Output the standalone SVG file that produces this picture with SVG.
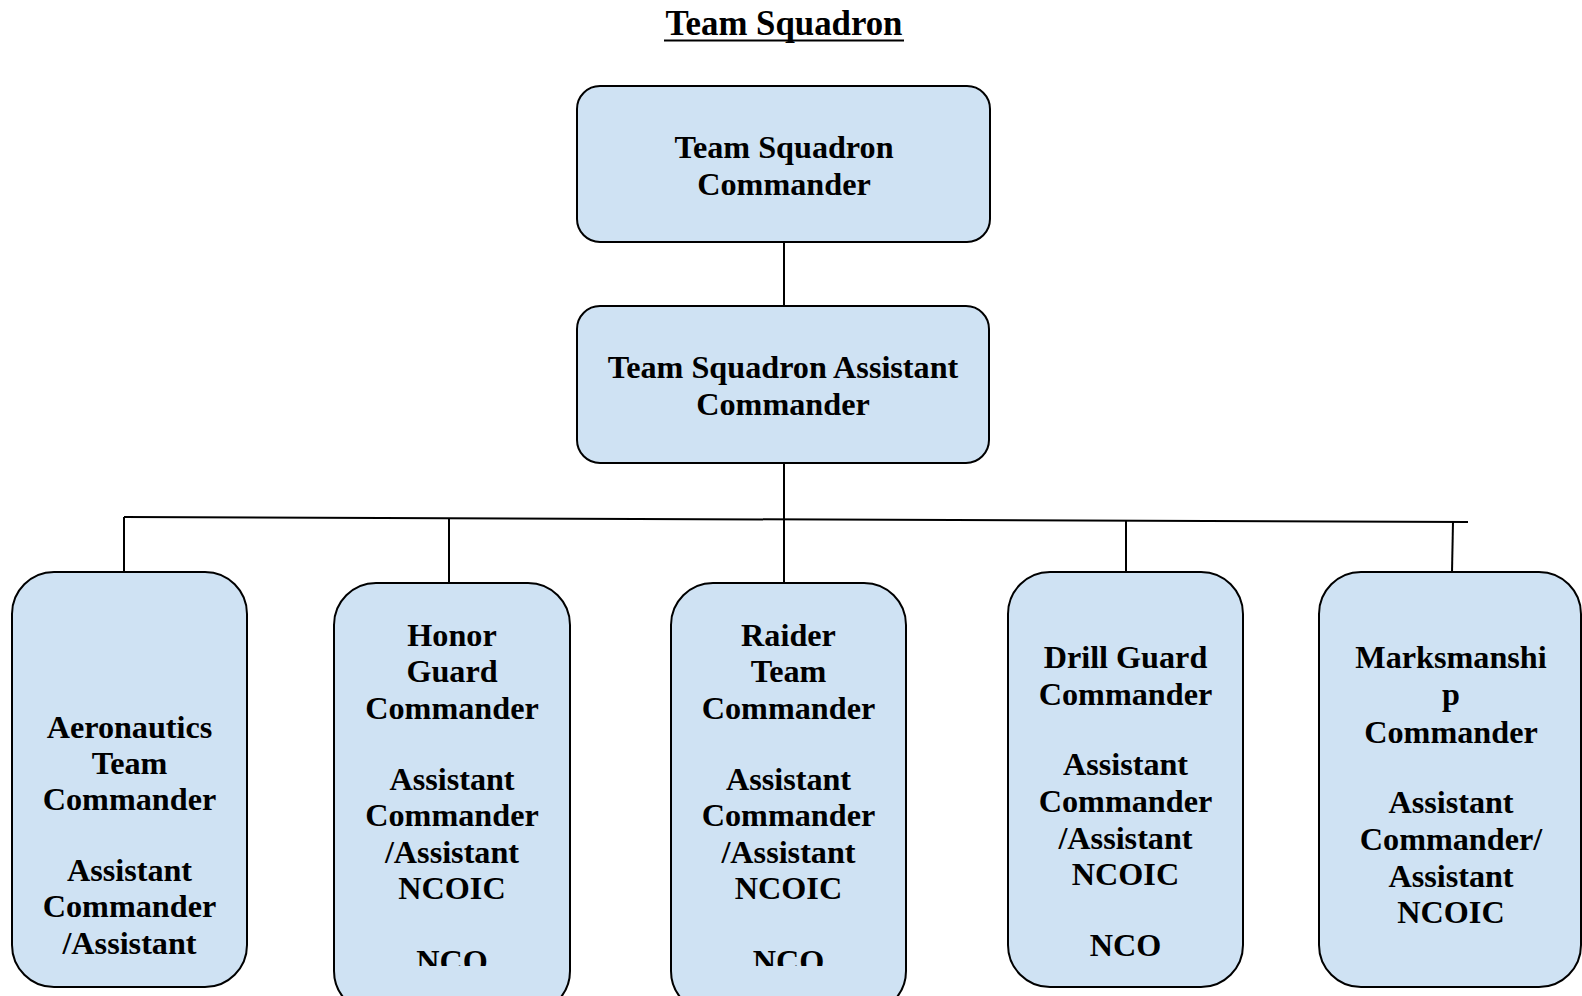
<svg xmlns="http://www.w3.org/2000/svg" width="1582" height="996" viewBox="0 0 1582 996">
<defs>
<style>
.box{fill:#cfe2f3;stroke:#000;stroke-width:2}
.t{font-family:"Liberation Serif","Times New Roman",serif;font-weight:bold;font-size:32.2px;fill:#000;text-anchor:middle}
.title{font-family:"Liberation Serif","Times New Roman",serif;font-weight:bold;font-size:34.8px;fill:#000;text-anchor:middle}
.ln{stroke:#000;stroke-width:2;fill:none}
</style>
<clipPath id="clipH"><rect x="334" y="583" width="236" height="383"/></clipPath>
<clipPath id="clipR"><rect x="671" y="583" width="236" height="383"/></clipPath>
</defs>
<rect width="1582" height="996" fill="#fff"/>
<g id="title">
<text class="title" x="784" y="35">Team Squadron</text>
<line x1="664" y1="40.5" x2="904" y2="40.5" stroke="#000" stroke-width="2"/>
</g>
<g id="connectors">
<line class="ln" x1="784" y1="242" x2="784" y2="306"/>
<line class="ln" x1="784" y1="463" x2="784" y2="583"/>
<line class="ln" x1="124" y1="517" x2="1468" y2="522"/>
<line class="ln" x1="124" y1="517" x2="124" y2="572"/>
<line class="ln" x1="449" y1="518" x2="449" y2="583"/>
<line class="ln" x1="1126" y1="521" x2="1126" y2="572"/>
<line class="ln" x1="1453" y1="522" x2="1452" y2="572"/>
</g>
<g id="n-commander">
<rect class="box" x="577" y="86" width="413" height="156" rx="23"/>
<text class="t" x="784" y="158">Team Squadron</text>
<text class="t" x="784" y="194.5">Commander</text>
</g>
<g id="n-assistant">
<rect class="box" x="577" y="306" width="412" height="157" rx="23"/>
<text class="t" x="783" y="378">Team Squadron Assistant</text>
<text class="t" x="783" y="415">Commander</text>
</g>
<g id="n-aeronautics">
<rect class="box" x="12" y="572" width="235" height="415" rx="42"/>
<text class="t" x="129.5" y="737.5">Aeronautics</text>
<text class="t" x="129.5" y="774">Team</text>
<text class="t" x="129.5" y="810">Commander</text>
<text class="t" x="129.5" y="881">Assistant</text>
<text class="t" x="129.5" y="917">Commander</text>
<text class="t" x="129.5" y="953.5">/Assistant</text>
</g>
<g id="n-honor">
<rect class="box" x="334" y="583" width="236" height="430" rx="42"/>
<text class="t" x="452" y="646">Honor</text>
<text class="t" x="452" y="682">Guard</text>
<text class="t" x="452" y="719">Commander</text>
<text class="t" x="452" y="790">Assistant</text>
<text class="t" x="452" y="826">Commander</text>
<text class="t" x="452" y="863">/Assistant</text>
<text class="t" x="452" y="899">NCOIC</text>
<text class="t" x="452" y="971.5" clip-path="url(#clipH)">NCO</text>
</g>
<g id="n-raider">
<rect class="box" x="671" y="583" width="235" height="430" rx="42"/>
<text class="t" x="788.5" y="646">Raider</text>
<text class="t" x="788.5" y="682">Team</text>
<text class="t" x="788.5" y="719">Commander</text>
<text class="t" x="788.5" y="790">Assistant</text>
<text class="t" x="788.5" y="826">Commander</text>
<text class="t" x="788.5" y="863">/Assistant</text>
<text class="t" x="788.5" y="899">NCOIC</text>
<text class="t" x="788.5" y="971.5" clip-path="url(#clipR)">NCO</text>
</g>
<g id="n-drill">
<rect class="box" x="1008" y="572" width="235" height="415" rx="42"/>
<text class="t" x="1125.5" y="668">Drill Guard</text>
<text class="t" x="1125.5" y="705">Commander</text>
<text class="t" x="1125.5" y="775">Assistant</text>
<text class="t" x="1125.5" y="812">Commander</text>
<text class="t" x="1125.5" y="849">/Assistant</text>
<text class="t" x="1125.5" y="885">NCOIC</text>
<text class="t" x="1125.5" y="955.5">NCO</text>
</g>
<g id="n-marksmanship">
<rect class="box" x="1319" y="572" width="262" height="415" rx="42"/>
<text class="t" x="1451" y="668">Marksmanshi</text>
<text class="t" x="1451" y="705">p</text>
<text class="t" x="1451" y="742.5">Commander</text>
<text class="t" x="1451" y="813">Assistant</text>
<text class="t" x="1451" y="849.5">Commander/</text>
<text class="t" x="1451" y="887">Assistant</text>
<text class="t" x="1451" y="923">NCOIC</text>
</g>
</svg>
